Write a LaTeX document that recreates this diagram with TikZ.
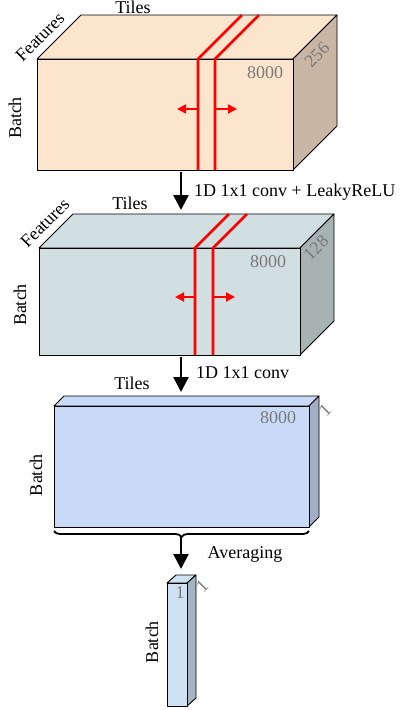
\documentclass[tikz,border=0pt]{standalone}
\usepackage{fontspec}
\setmainfont{Liberation Serif}
\usetikzlibrary{arrows.meta,decorations.pathreplacing}
\definecolor{peachF}{HTML}{FCE5CD}
\definecolor{peachS}{HTML}{C9B5A3}
\definecolor{greyF}{HTML}{D2DFE1}
\definecolor{greyS}{HTML}{A7B3B3}
\definecolor{blueF}{HTML}{C9DAF8}
\definecolor{blueS}{HTML}{A1AEC6}
\definecolor{lblueF}{HTML}{CFE2F3}
\definecolor{lblueS}{HTML}{A5B4C2}
\definecolor{dimtext}{HTML}{7A7A7A}
\tikzset{
  lbl/.style={inner sep=0pt, font=\fontsize{18}{20}\selectfont},
  dimlbl/.style={lbl, text=dimtext},
  edge/.style={draw=black, line width=0.9pt, line join=round},
  redline/.style={draw=red, line width=2.8pt, line join=miter},
  redarrow/.style={draw=red, line width=1.8pt, -{Triangle[width=9pt,length=9pt]}},
  flowarrow/.style={draw=black, line width=2.6pt, -{Triangle[width=15pt,length=15pt]}},
}
\begin{document}
\begin{tikzpicture}[x=1pt,y=-1pt]
\useasboundingbox (0,0) rectangle (401,710);
\fill[white] (0,0) rectangle (401,710);

% ---------- Box 1 ----------
\filldraw[edge, fill=peachF] (37,59) -- (293,59) -- (337,15) -- (81,15) -- cycle;
\filldraw[edge, fill=peachS] (293,59) -- (337,15) -- (337,126) -- (293,170) -- cycle;
\filldraw[edge, fill=peachF] (37,59) rectangle (293,170);
\draw[redline] (198,170) -- (198,59) -- (242,15);
\draw[redline] (215,170) -- (215,59) -- (259,15);
\coordinate (r1a) at (198,109); \coordinate (r1b) at (177,109);
\coordinate (r1c) at (215,109); \coordinate (r1d) at (237,109);
\draw[redarrow] (r1a) -- (r1b);
\draw[redarrow] (r1c) -- (r1d);
\node[lbl] (t1) at (133,7) {Tiles};
\node[lbl, rotate=45] (f1) at (40,37) {Features};
\node[lbl, rotate=90] (bt1) at (15,118) {Batch};
\node[dimlbl] (n1) at (265,73) {8000};
\node[dimlbl, rotate=45] (d1) at (317,55) {256};

% ---------- Box 2 ----------
\filldraw[edge, fill=greyF] (39,248) -- (300,248) -- (334,214) -- (73,214) -- cycle;
\filldraw[edge, fill=greyS] (300,248) -- (334,214) -- (334,321) -- (300,355) -- cycle;
\filldraw[edge, fill=greyF] (39,248) rectangle (300,355);
\draw[redline] (195,355) -- (195,248) -- (229,214);
\draw[redline] (213,355) -- (213,248) -- (247,214);
\coordinate (r2a) at (195,297); \coordinate (r2b) at (175,297);
\coordinate (r2c) at (213,297); \coordinate (r2d) at (235,297);
\draw[redarrow] (r2a) -- (r2b);
\draw[redarrow] (r2c) -- (r2d);
\node[lbl] (t2) at (130,203) {Tiles};
\node[lbl, rotate=45] (f2) at (45,223) {Features};
\node[lbl, rotate=90] (bt2) at (20,305) {Batch};
\node[dimlbl] (n2) at (268,262) {8000};
\node[dimlbl, rotate=45] (d2) at (316,248) {128};

% ---------- Box 3 ----------
\filldraw[edge, fill=blueF] (54,406) -- (309,406) -- (319,396) -- (64,396) -- cycle;
\filldraw[edge, fill=blueS] (309,406) -- (319,396) -- (319,517) -- (309,527) -- cycle;
\filldraw[edge, fill=blueF] (54,406) rectangle (309,527);
\node[lbl] (t3) at (132,383) {Tiles};
\node[lbl, rotate=90] (bt3) at (36,475) {Batch};
\node[dimlbl] (n3) at (278,418) {8000};
\node[dimlbl, rotate=45] (d3) at (325,410) {1};

% ---------- Box 4 ----------
\filldraw[edge, fill=lblueF] (167,583) -- (187,583) -- (196,575) -- (176,575) -- cycle;
\filldraw[edge, fill=lblueS] (187,583) -- (196,575) -- (196,698) -- (187,706) -- cycle;
\filldraw[edge, fill=lblueF] (167,583) rectangle (187,706);
\node[dimlbl] (n4) at (180,593) {1};
\node[dimlbl, rotate=45] (d4) at (202,586) {1};
\node[lbl, rotate=90] (bt4) at (152,642) {Batch};

% ---------- Flow ----------
\coordinate (a1s) at (181,172); \coordinate (a1e) at (181,210);
\coordinate (a2s) at (181,357); \coordinate (a2e) at (181,392);
\coordinate (a3s) at (181,537); \coordinate (a3e) at (181,569);
\draw[flowarrow] (a1s) -- (a1e);
\draw[flowarrow] (a2s) -- (a2e);
\draw[flowarrow] (a3s) -- (a3e);
\node[lbl, anchor=west] (l1) at (194,192) {1D 1x1 conv + LeakyReLU};
\node[lbl, anchor=west] (l2) at (196,373) {1D 1x1 conv};
\node[lbl] (l3) at (245,554) {Averaging};

\coordinate (brL) at (54,531); \coordinate (brR) at (309,531);
\draw[line width=1.8pt, decorate, decoration={brace, mirror, amplitude=6pt}] (brL) -- (brR);
\end{tikzpicture}
\end{document}
